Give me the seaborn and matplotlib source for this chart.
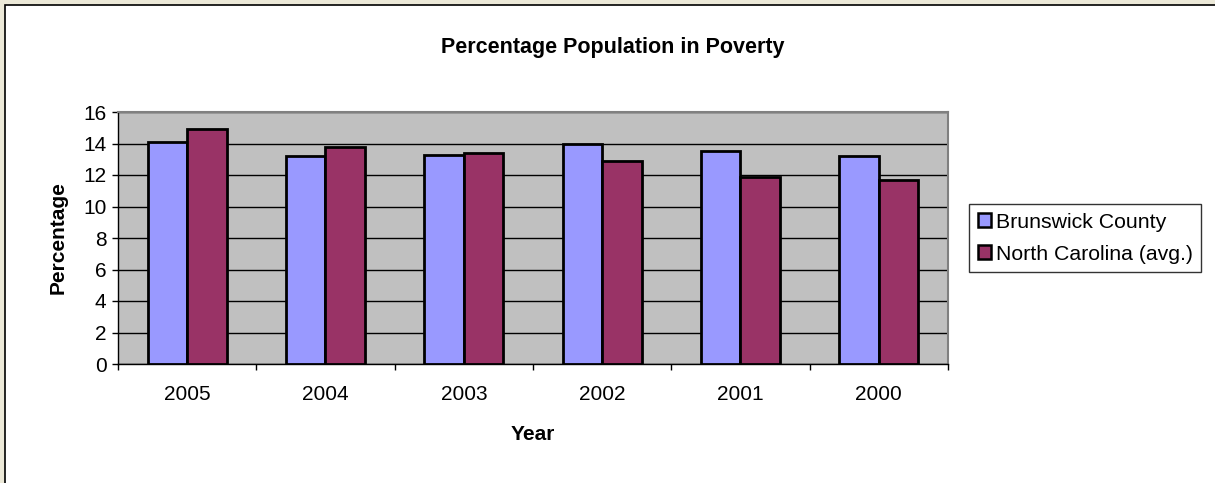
import matplotlib
matplotlib.use("Agg")
import matplotlib.pyplot as plt
import seaborn as sns
import pandas as pd
from matplotlib.patches import Rectangle, Patch

years = ["2005", "2004", "2003", "2002", "2001", "2000"]
brunswick = [14.1, 13.2, 13.3, 14.0, 13.5, 13.2]
north_carolina = [14.9, 13.8, 13.4, 12.9, 11.9, 11.7]
series_names = ["Brunswick County", "North Carolina (avg.)"]
colors = ["#9999FF", "#993366"]

df = pd.DataFrame({
    "Year": years * 2,
    "Percentage": brunswick + north_carolina,
    "Series": [series_names[0]] * len(years) + [series_names[1]] * len(years),
})

sns.set_style("white")
plt.rcParams["font.family"] = ["Liberation Sans", "DejaVu Sans"]
plt.rcParams["text.color"] = "black"
plt.rcParams["axes.labelcolor"] = "black"
plt.rcParams["xtick.color"] = "black"
plt.rcParams["ytick.color"] = "black"

FS = 15

fig = plt.figure(figsize=(12.15, 4.83), dpi=100)
fig.patch.set_facecolor("#ECE9D8")
bg = Rectangle((5 / 1215, -0.02), 1.05, 1 - 5 / 483 + 0.02,
               transform=fig.transFigure, facecolor="white",
               edgecolor="black", linewidth=1.2, zorder=-10)
fig.patches.append(bg)

ax = fig.add_axes([118 / 1215, 1 - 364 / 483, (948 - 118) / 1215, (364 - 112) / 483])
ax.set_zorder(1)
ax.set_facecolor("#C0C0C0")

sns.barplot(data=df, x="Year", y="Percentage", hue="Series", order=years,
            hue_order=series_names, palette=colors, width=0.57,
            edgecolor="black", linewidth=2, saturation=1, ax=ax, legend=False,
            zorder=3)

ax.set_ylim(0, 16)
ax.set_xlim(-0.5, len(years) - 0.5)
ax.set_yticks(range(0, 17, 2))
ax.yaxis.grid(True, color="black", linewidth=1)
ax.set_axisbelow(True)

ax.set_xticks([i - 0.5 for i in range(len(years) + 1)], minor=False)
ax.set_xticklabels([])
ax.set_xticks(range(len(years)), minor=True)
ax.set_xticklabels(years, minor=True)
ax.tick_params(axis="x", which="major", direction="out", length=4.3, width=1, color="black", bottom=True)
ax.tick_params(axis="x", which="minor", length=0, pad=15, labelsize=FS, labelcolor="black")
ax.tick_params(axis="y", direction="out", length=4.3, width=1, color="black", left=True, labelsize=FS, pad=4, labelcolor="black")

for s in ["top", "right"]:
    ax.spines[s].set_color("#808080")
    ax.spines[s].set_linewidth(1.5)
for s in ["left", "bottom"]:
    ax.spines[s].set_color("black")
    ax.spines[s].set_linewidth(1)

ax.set_xlabel("Year", fontsize=FS, fontweight="bold", labelpad=15, color="black")
ax.set_ylabel("Percentage", fontsize=FS, fontweight="bold", labelpad=11, color="black")
fig.text(613 / 1215, 1 - 47 / 483, "Percentage Population in Poverty", ha="center",
         va="center", fontsize=15.5, fontweight="bold", color="black")

handles = [Patch(facecolor=c, edgecolor="black", linewidth=1.8) for c in colors]
leg = fig.legend(handles, series_names, loc="upper left",
                 bbox_to_anchor=(969 / 1215, 1 - 204 / 483), fontsize=15.3,
                 frameon=True, fancybox=False, handlelength=0.65, handleheight=0.65,
                 handletextpad=0.2, borderpad=0.4, labelspacing=0.62, borderaxespad=0)
leg.get_frame().set_edgecolor("black")
leg.get_frame().set_linewidth(1)
for t in leg.get_texts():
    t.set_color("black")

fig.savefig("out.png", dpi=100, facecolor=fig.get_facecolor())
